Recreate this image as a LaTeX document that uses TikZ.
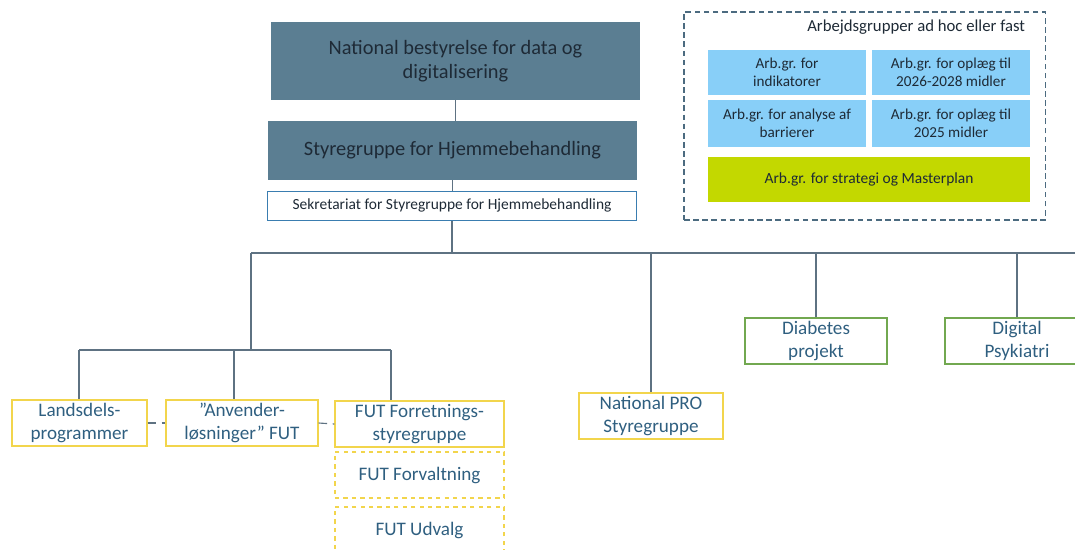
\documentclass[tikz,border=0pt]{standalone}
\usepackage{fontspec}
\setmainfont{Carlito}
\definecolor{slatebox}{HTML}{5B7E92}
\definecolor{darktext}{HTML}{1E2A36}
\definecolor{linegray}{HTML}{5E7282}
\definecolor{sekblue}{HTML}{3A7DB0}
\definecolor{futyellow}{HTML}{F2D54C}
\definecolor{projgreen}{HTML}{72A850}
\definecolor{tealtext}{HTML}{2F5F80}
\definecolor{arbblue}{HTML}{88CFF8}
\definecolor{arbgreen}{HTML}{C3D800}
\definecolor{framegray}{HTML}{4C6B80}

\begin{document}
\begin{tikzpicture}[x=0.025cm, y=-0.025cm,
    board/.style={fill=slatebox, text=darktext, align=center, font=\fontsize{14.5}{17}\selectfont, minimum width=9.225cm},
    yellowbox/.style={draw=futyellow, line width=0.9pt, text=tealtext, align=center, font=\fontsize{13.6}{16.5}\selectfont, inner sep=1pt, minimum width=3.55cm, minimum height=1.15cm},
    greenbox/.style={draw=projgreen, line width=0.9pt, text=tealtext, align=center, font=\fontsize{13.6}{16.5}\selectfont, inner sep=1pt, minimum width=3.55cm, minimum height=1.15cm},
    arbbox/.style={fill=arbblue, text=darktext, align=center, font=\fontsize{10.8}{12.5}\selectfont, inner sep=1pt, minimum width=3.95cm},
    conn/.style={draw=linegray, line width=0.8pt}]
        \useasboundingbox (0,0) rectangle (1075,549);

        \node[board, minimum height=1.95cm] (nb) at (455.5,61) {National bestyrelse for data og\\digitalisering};
        \node[board, minimum height=1.475cm] (sg) at (452.5,150.5) {Styregruppe for Hjemmebehandling};
        \node[draw=sekblue, line width=0.7pt, text=darktext, font=\fontsize{11}{13}\selectfont, minimum width=9.2cm, minimum height=0.725cm] (sek) at (452,205.5) {Sekretariat for Styregruppe for Hjemmebehandling};

        \node[draw=framegray, line width=0.8pt, dash pattern=on 4pt off 2.5pt, minimum width=9.025cm, minimum height=5.2cm] (arb) at (864.5,116) {};
        \node[anchor=east, text=darktext, font=\fontsize{11.9}{14}\selectfont] (arbtitle) at (1030,27) {Arbejdsgrupper ad hoc eller fast};
        \node[arbbox, minimum height=1.125cm] (ind) at (787,72.5) {Arb.gr. for\\indikatorer};
        \node[arbbox, minimum height=1.125cm] (mid26) at (951,72.5) {Arb.gr. for oplæg til\\2026-2028 midler};
        \node[arbbox, minimum height=1.175cm] (bar) at (787,123.5) {Arb.gr. for analyse af\\barrierer};
        \node[arbbox, minimum height=1.175cm] (mid25) at (951,123.5) {Arb.gr. for oplæg til\\2025 midler};
        \node[fill=arbgreen, text=darktext, font=\fontsize{11}{13}\selectfont, minimum width=8.05cm, minimum height=1.125cm] (strat) at (869,179.5) {Arb.gr. for strategi og Masterplan};

        \node[yellowbox, minimum width=3.375cm] (land) at (79.5,423) {Landsdels-\\programmer};
        \node[yellowbox, minimum width=3.8cm] (anv) at (242,423) {”Anvender-\\løsninger” FUT};
        \node[yellowbox, minimum width=4.225cm] (fut) at (419.5,424) {FUT Forretnings-\\styregruppe};
        \node[yellowbox, dashed, minimum width=4.225cm, minimum height=1.15cm] (futf) at (419.5,475) {FUT Forvaltning};
        \node[yellowbox, dashed, minimum width=4.225cm] (futu) at (419.5,530) {FUT Udvalg};
        \node[yellowbox, minimum width=3.6cm] (pro) at (651,416) {National PRO\\Styregruppe};
        \node[greenbox] (dia) at (816,341) {Diabetes\\projekt};
        \node[greenbox, minimum width=3.6cm] (dig) at (1017,341) {Digital\\Psykiatri};

        \coordinate (busL) at (251,253);
        \coordinate (busR) at (1075,253);
        \coordinate (subL) at (79,350);
        \coordinate (subR) at (391,350);

        \draw[conn] (nb.south) -- (nb.south |- sg.north);
        \draw[conn] (sg.south) -- (sg.south |- sek.north);
        \draw[conn] (sek.south) -- (sek.south |- busL);
        \draw[conn] (busL) -- (busR);
        \draw[conn] (busL) -- (busL |- subL);
        \draw[conn] (subL) -- (subR);
        \draw[conn] (subL) -- (subL |- land.north);
        \draw[conn] ([xshift=-0.2cm]anv.north |- subL) -- ([xshift=-0.2cm]anv.north);
        \draw[conn] (subR) -- (subR |- fut.north);
        \draw[conn] (pro.north |- busL) -- (pro.north);
        \draw[conn] (dia.north |- busL) -- (dia.north);
        \draw[conn] (dig.north |- busL) -- (dig.north);
        \draw[conn, dash pattern=on 6pt off 4pt] (land.east) -- (anv.west);
        \draw[conn, dash pattern=on 6pt off 4pt] (anv.east) -- (fut.west);
    \end{tikzpicture}
\end{document}
